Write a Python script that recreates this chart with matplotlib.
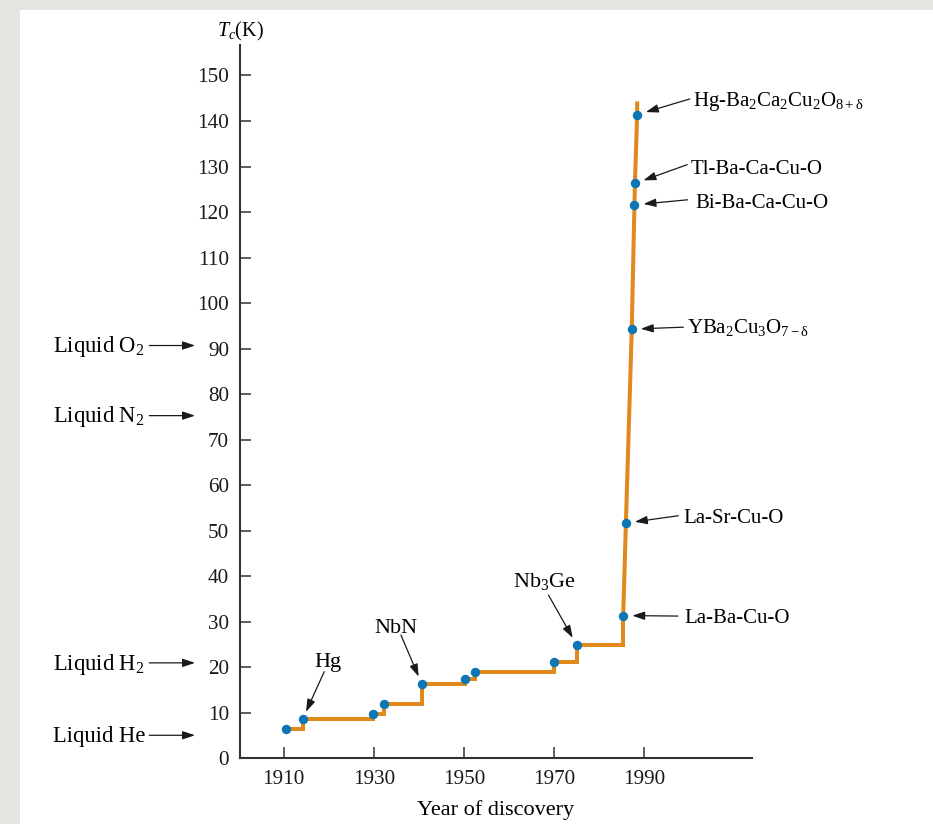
import numpy as np
import matplotlib
matplotlib.use('Agg')
from matplotlib import pyplot as plt
from matplotlib.patches import Rectangle

# Data
# low-Tc discoveries (drawn as a staircase)
step_years = [1910.55, 1914.2, 1929.9, 1932.3, 1940.7, 1950.3, 1952.6, 1970.0, 1975.1, 1985.4]
step_tc = [6.5, 8.6, 9.8, 11.9, 16.3, 17.5, 19.1, 21.3, 24.9, 31.4]
# cuprates (drawn as a plain line)
cuprate_years = [1985.4, 1986.0, 1987.3, 1987.9, 1988.0, 1988.5]
cuprate_tc = [31.4, 51.7, 94.3, 121.6, 126.3, 141.4]
top_year, top_tc = 1988.5, 144.3

cuprate_names = ['La-Ba-Cu-O', 'La-Sr-Cu-O', r'YBa$_2$Cu$_3$O$_{7-\mathrm{δ}}$',
                 'Bi-Ba-Ca-Cu-O', 'Tl-Ba-Ca-Cu-O', r'Hg-Ba$_2$Ca$_2$Cu$_2$O$_{8+\mathrm{δ}}$']
low_names = {1: 'Hg', 4: 'NbN', 8: r'Nb$_3$Ge'}

liquid_names = [r'Liquid O$_2$', r'Liquid N$_2$', r'Liquid H$_2$', 'Liquid He']
liquid_tc = [90.7, 75.3, 21.0, 5.1]

x_ticks = [1910, 1930, 1950, 1970, 1990]
y_ticks = list(range(0, 151, 10))

orange = '#e0891d'
blue = '#0d76b3'
axis_col = '#333333'

plt.rcParams['font.family'] = ['Liberation Serif', 'DejaVu Serif']
plt.rcParams['mathtext.fontset'] = 'custom'
plt.rcParams['mathtext.rm'] = 'Liberation Serif'
plt.rcParams['mathtext.it'] = 'Liberation Serif:italic'
plt.rcParams['mathtext.bf'] = 'Liberation Serif:bold'

fig = plt.figure(figsize=(9.33, 8.24), dpi=100, facecolor='#e5e4e0')
# white page on the gray textured border
fig.patches.append(Rectangle((20/933, 0), 1, 1 - 10/824, transform=fig.transFigure,
                             facecolor='white', edgecolor='none', zorder=-10))

ax = fig.add_axes([0.2567, 0.0795, 0.5493, 0.8659])
ax.set_facecolor('none')

# the curve
ax.step(step_years, step_tc, where='post', color=orange, lw=2.9,
        solid_joinstyle='miter', zorder=2)
ax.plot(cuprate_years + [top_year], cuprate_tc + [top_tc], color=orange, lw=2.9,
        solid_joinstyle='miter', solid_capstyle='butt', zorder=2)
ax.plot(step_years[:-1] + cuprate_years, step_tc[:-1] + cuprate_tc, 'o',
        color=blue, ms=6.8, mec='none', zorder=3)

ax.set_xlim(1900.2, 2014)
ax.set_ylim(0, 156.7)
ax.set_xticks(x_ticks)
ax.set_yticks(y_ticks)
ax.tick_params(direction='in', length=8, width=1.1, color=axis_col, labelsize=15.2,
               labelcolor='#1a1a1a')
ax.tick_params(axis='y', pad=7.5)
ax.tick_params(axis='x', pad=8)
for s in ['top', 'right']:
    ax.spines[s].set_visible(False)
for s in ['left', 'bottom']:
    ax.spines[s].set_color(axis_col)
    ax.spines[s].set_linewidth(1.5)

ax.set_xlabel('Year of discovery', fontsize=16, labelpad=8)
fig.text(240/933, 1 - 31.7/824, r'$T_c$(K)', fontsize=14.5, ha='center', va='center')

arrow = dict(arrowstyle='-|>,head_length=0.75,head_width=0.25', mutation_scale=10,
             color='#1a1a1a', lw=0.9, shrinkA=0)

# labels to the right of the cuprate points: (tail dx, dy), (text dx, dy) in points
right_layout = [((39.4, -0.4), (43.7, -5.2)),
                ((37.7, 5.3), (41.3, 0.4)),
                ((37.2, 1.4), (40.0, -2.7)),
                ((38.2, 3.6), (43.7, -2.4)),
                ((37.7, 13.5), (40.0, 7.0)),
                ((37.9, 11.3), (40.3, 6.5))]
for i, name in enumerate(cuprate_names):
    p = (cuprate_years[i], cuprate_tc[i])
    tail, txt = right_layout[i]
    ax.annotate('', xy=p, xytext=tail, textcoords='offset points',
                arrowprops=dict(arrow, shrinkB=6.5), annotation_clip=False)
    ax.annotate(name, xy=p, xytext=txt, textcoords='offset points',
                ha='left', va='baseline', fontsize=15, annotation_clip=False)

# labels above the low-Tc points
low_layout = {1: ((15.6, 34.3), (18.0, 37.4)),
              4: ((-15.1, 35.5), (-18.7, 36.7)),
              8: ((-20.4, 36.0), (-23.5, 42.0))}
for i, name in low_names.items():
    p = (step_years[i], step_tc[i])
    tail, txt = low_layout[i]
    ax.annotate('', xy=p, xytext=tail, textcoords='offset points',
                arrowprops=dict(arrow, shrinkB=6.0))
    ax.annotate(name, xy=p, xytext=txt, textcoords='offset points',
                ha='center', va='baseline', fontsize=16)

# boiling points on the left margin
for name, t in zip(liquid_names, liquid_tc):
    ax.annotate('', xy=(-0.0868, t), xycoords=('axes fraction', 'data'),
                xytext=(-0.176, t), textcoords=('axes fraction', 'data'),
                arrowprops=dict(arrow, shrinkB=0), annotation_clip=False)
    ax.annotate(name, xy=(-0.1844, t), xycoords=('axes fraction', 'data'),
                xytext=(0, -4.8), textcoords='offset points',
                ha='right', va='baseline', fontsize=16.3, annotation_clip=False)

plt.savefig('out.png', dpi=100, facecolor=fig.get_facecolor())
